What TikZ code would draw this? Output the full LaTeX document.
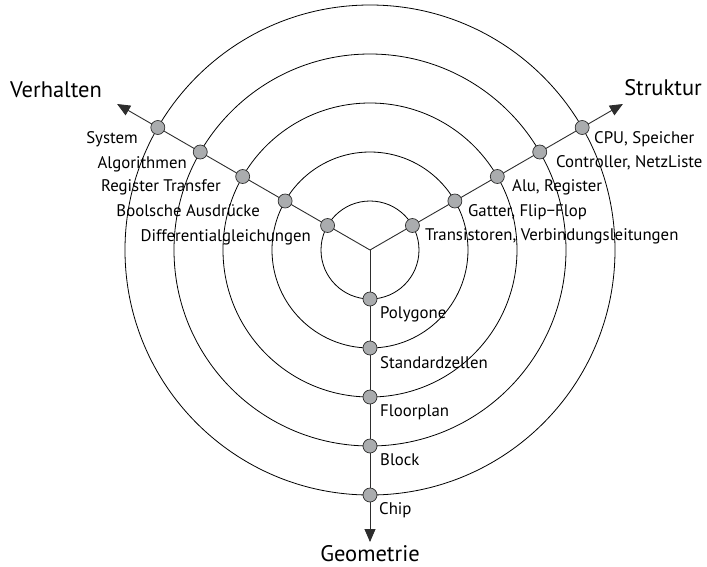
\documentclass[tikz,border=0pt]{standalone}
\usepackage{fontspec}
\setmainfont{PT Sans}
\usetikzlibrary{arrows.meta}
\definecolor{dotgray}{RGB}{170,172,174}
\definecolor{axisgray}{RGB}{45,45,45}
\begin{document}
\begin{tikzpicture}[x=1pt,y=1pt,
  ring/.style={draw=black,line width=0.8pt},
  axis/.style={draw=axisgray,line width=0.9pt,-{Triangle[length=13pt,width=11pt]}},
  level/.style={circle,draw=axisgray,line width=0.7pt,fill=dotgray,minimum size=14pt,inner sep=0pt},
  lbl/.style={inner sep=0pt,font=\fontsize{16.8}{19}\selectfont},
  lblL/.style={lbl,anchor=base east},
  lblR/.style={lbl,anchor=base west},
  title/.style={inner sep=0pt,font=\fontsize{22.5}{26}\selectfont}]
  \useasboundingbox (-370,-316) rectangle (337,250);
  \coordinate (c) at (0,0);
  % concentric abstraction levels
  \foreach \r in {49,98,147,196,245}
    \draw[ring] (c) circle[radius=\r];
  % the three axes
  \coordinate (vEnd) at (150:292);
  \coordinate (sEnd) at (30:292);
  \coordinate (gEnd) at (270:292);
  \draw[axis] (c) -- (vEnd);
  \draw[axis] (c) -- (sEnd);
  \draw[axis] (c) -- (gEnd);
  % level markers on each axis
  \foreach \i/\r in {1/49,2/98,3/147,4/196,5/245}{
    \node[level] (v\i) at (150:\r) {};
    \node[level] (s\i) at (30:\r) {};
    \node[level] (g\i) at (270:\r) {};
  }
  % behaviour domain
  \node[lblL] (lv5) at (-232,107) {System};
  \node[lblL] (lv4) at (-183,82) {Algorithmen};
  \node[lblL] (lv3) at (-149,59) {Register Transfer};
  \node[lblL] (lv2) at (-110,34) {Boolsche Ausdrücke};
  \node[lblL] (lv1) at (-59,9) {Differentialgleichungen};
  % structural domain
  \node[lblR] (ls5) at (224,107) {CPU, Speicher};
  \node[lblR] (ls4) at (186,83) {Controller, NetzListe};
  \node[lblR] (ls3) at (142,59) {Alu, Register};
  \node[lblR] (ls2) at (98,34) {Gatter, Flip−Flop};
  \node[lblR] (ls1) at (55,10) {Transistoren, Verbindungsleitungen};
  % geometric domain
  \node[lblR] (lg1) at (10,-68) {Polygone};
  \node[lblR] (lg2) at (10,-118) {Standardzellen};
  \node[lblR] (lg3) at (10,-166) {Floorplan};
  \node[lblR] (lg4) at (10,-215) {Block};
  \node[lblR] (lg5) at (9,-264) {Chip};
  % domain titles
  \node[title,anchor=base west] (tv) at (-360,153) {Verhalten};
  \node[title,anchor=base east] (ts) at (332,155) {Struktur};
  \node[title,anchor=base] (tg) at (0,-311) {Geometrie};
\end{tikzpicture}
\end{document}
